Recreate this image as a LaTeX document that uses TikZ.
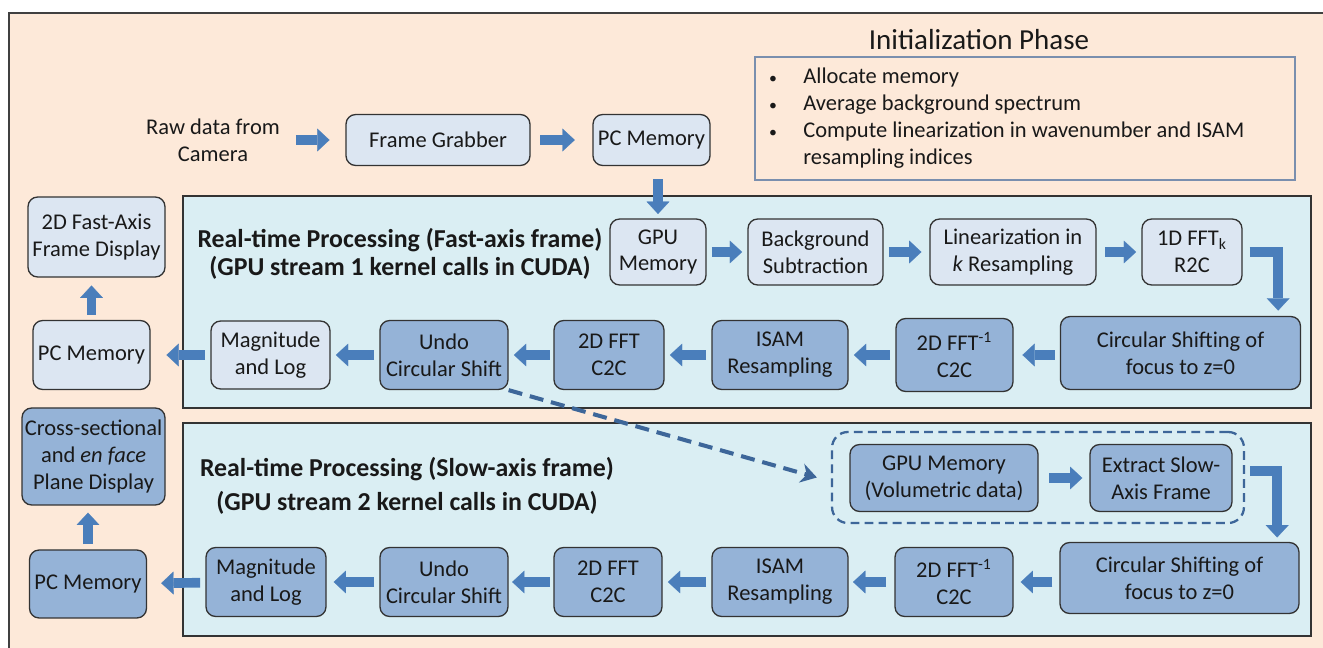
\documentclass[tikz,border=0pt]{standalone}
\usepackage{fontspec}
\setmainfont{Carlito}
\usetikzlibrary{arrows.meta}

\definecolor{peach}{HTML}{FDE9D9}
\definecolor{panelfill}{HTML}{DAEEF3}
\definecolor{lightfill}{HTML}{DCE6F2}
\definecolor{darkfill}{HTML}{95B3D7}
\definecolor{flowblue}{HTML}{4A7EBB}
\definecolor{dashblue}{HTML}{3D6699}
\definecolor{initedge}{HTML}{7A8FAE}

\newcommand\boxfont{\fontsize{12.8}{15.3}\selectfont}
\newcommand\titlefont{\fontsize{14.7}{16}\selectfont\bfseries}
\newcommand\initdot{\makebox[0.72cm][l]{\hspace{1pt}{\fontsize{9}{9}\selectfont\textbullet}}}

\tikzset{
  box/.style 2 args={draw=black!80, line width=0.75pt, rounded corners=5.5pt,
    align=center, inner sep=1pt, text=black!90, font=\boxfont,
    minimum width=#1*0.02cm, minimum height=#2*0.02cm},
  lbox/.style 2 args={box={#1}{#2}, fill=lightfill},
  dbox/.style 2 args={box={#1}{#2}, fill=darkfill},
  panel/.style={draw=black!80, line width=1pt, fill=panelfill},
  paneltitle/.style={align=center, font=\titlefont, text=black!90},
  flow/.style={draw=flowblue, line width=5.5pt,
    -{Triangle[length=7pt,width=13pt,line width=0.1pt]},
    shorten <=3pt, shorten >=3pt},
  volarrow/.style={draw=dashblue, line width=2.3pt, dash pattern=on 8pt off 4.5pt,
    -{Stealth[length=9pt,width=11pt,inset=3pt]}}
}

\begin{document}
\begin{tikzpicture}[x=0.02cm,y=-0.02cm]
\useasboundingbox (0,0) rectangle (1323,648);
\draw[draw=black!75,line width=1pt,fill=peach] (9,13) rectangle (1340,660);

\node[font=\fontsize{16.5}{18}\selectfont,text=black!90] (initTitle) at (979,40) {Initialization Phase};
\node[draw=initedge,line width=0.8pt,minimum width=10.8cm,minimum height=2.46cm] (init) at (1025,118.5) {};
\node[anchor=west,align=left,inner sep=0pt,font=\boxfont,text=black!90] (initList) at (767,118)
  {\initdot Allocate memory\\
   \initdot Average background spectrum\\
   \initdot Compute linearization in wavenumber and ISAM\\
   \hspace*{0.72cm}resampling indices};

\node[align=center,inner sep=0pt,font=\boxfont,text=black!90] (raw) at (213,140) {Raw data from\\Camera};
\node[lbox={184}{51}] (grab) at (438,140) {Frame Grabber};
\node[lbox={117}{51}] (pcTop) at (651.5,140) {PC Memory};

\draw[panel] (183,196) rectangle (1311,408);
\draw[panel] (183,423) rectangle (1311,636);
\node[paneltitle] (fastTitle) at (400,254) {Real-time Processing (Fast-axis frame)\\(GPU stream 1 kernel calls in CUDA)};
\node[paneltitle] (slowTitle) at (407,486) {Real-time Processing (Slow-axis frame)\\[3pt](GPU stream 2 kernel calls in CUDA)};

\node[lbox={96}{66}] (gpuA) at (658,252) {GPU\\Memory};
\node[lbox={135}{66}] (bgA) at (815.5,252) {Background\\Subtraction};
\node[lbox={166}{66}] (linA) at (1013,252) {Linearization in\\\textit{k} Resampling};
\node[lbox={100}{66}] (fftA) at (1192,252) {1D FFT\textsubscript{k}\\R2C};
\node[dbox={240}{73}] (circA) at (1180.5,353) {Circular Shifting of\\focus to z=0};
\node[dbox={117}{73}] (ifftA) at (954.5,355) {2D FFT\textsuperscript{-1}\\C2C};
\node[dbox={136}{69}] (isamA) at (780,355) {ISAM\\Resampling};
\node[dbox={110}{69}] (fft2A) at (609,355) {2D FFT\\C2C};
\node[dbox={128}{69}] (undoA) at (444,355) {Undo\\Circular Shift};
\node[lbox={119}{68}] (magA) at (270.5,355) {Magnitude\\and Log};
\node[lbox={117}{69}] (pcA) at (91.5,355) {PC Memory};
\node[lbox={137}{80}] (dispA) at (96.5,237) {2D Fast-Axis\\Frame Display};

\node[draw=dashblue,line width=1.3pt,dash pattern=on 5pt off 3pt,rounded corners=9pt,
  minimum width=8.24cm,minimum height=1.82cm] (volGroup) at (1038,477.5) {};
\node[dbox={188}{67}] (gpuB) at (944,478) {GPU Memory\\(Volumetric data)};
\node[dbox={142}{67}] (extB) at (1161,478) {Extract Slow-\\Axis Frame};
\node[dbox={239}{71}] (circB) at (1179.5,578) {Circular Shifting of\\focus to z=0};
\node[dbox={118}{69}] (ifftB) at (954,582) {2D FFT\textsuperscript{-1}\\C2C};
\node[dbox={136}{69}] (isamB) at (780,582) {ISAM\\Resampling};
\node[dbox={108}{69}] (fft2B) at (608,582) {2D FFT\\C2C};
\node[dbox={128}{69}] (undoB) at (444,582) {Undo\\Circular Shift};
\node[dbox={120}{69}] (magB) at (266,582) {Magnitude\\and Log};
\node[dbox={117}{68}] (pcB) at (88,584) {PC Memory};
\node[dbox={143}{97}] (crossB) at (93.5,456.5) {Cross-sectional\\and \textit{en face}\\Plane Display};

\draw[flow,shorten <=9pt,shorten >=9pt] (raw.east) -- (grab.west);
\draw[flow,shorten <=5.5pt,shorten >=10pt] (grab) -- (pcTop);
\draw[flow,shorten <=7.5pt,shorten >=2.5pt] (pcTop.south -| gpuA.north) -- (gpuA.north);
\draw[flow] (gpuA) -- (bgA);
\draw[flow,shorten >=4.5pt] (bgA) -- (linA);
\draw[flow,shorten <=5pt] (linA) -- (fftA);
\draw[flow,shorten <=4pt] (fftA.east) -| ([xshift=-0.46cm]circA.north east);
\draw[flow,shorten >=5pt] (circA.west |- ifftA) -- (ifftA);
\draw[flow] (ifftA) -- (isamA);
\draw[flow] (isamA) -- (fft2A);
\draw[flow,shorten <=2pt] (fft2A) -- (undoA);
\draw[flow] (undoA) -- (magA);
\draw[flow,shorten >=9pt] (magA) -- (pcA);
\draw[flow,shorten >=4.5pt] (pcA.north) -- (pcA.north |- dispA.south);

\draw[volarrow] (undoA.south east) -- ([xshift=-0.28cm]volGroup.west);

\draw[flow,shorten <=6pt,shorten >=4pt] (gpuB) -- (extB);
\draw[flow,shorten <=10pt,shorten >=2.5pt] ([yshift=0.14cm]extB.east) -| ([xshift=-0.45cm]circB.north east);
\draw[flow,shorten <=4pt,shorten >=4pt] (circB.west |- ifftB) -- (ifftB);
\draw[flow,shorten <=5pt,shorten >=2.5pt] (ifftB) -- (isamB);
\draw[flow] (isamB) -- (fft2B);
\draw[flow,shorten <=2pt,shorten >=2pt] (fft2B) -- (undoB);
\draw[flow,shorten >=4pt] (undoB) -- (magB);
\draw[flow,shorten >=8pt] (magB) -- (pcB);
\draw[flow,shorten >=4pt] (pcB.north) -- (pcB.north |- crossB.south);
\end{tikzpicture}
\end{document}
